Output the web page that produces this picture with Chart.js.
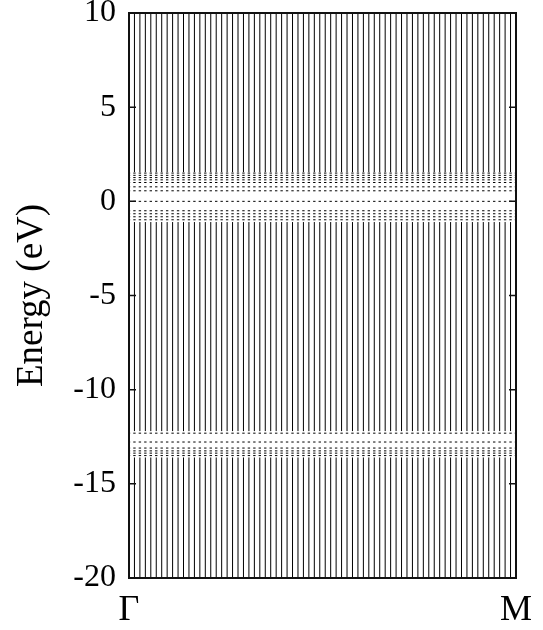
<!DOCTYPE html>
<html>
<head>
<meta charset="utf-8">
<script src="https://cdn.jsdelivr.net/npm/chart.js@4.4.0/dist/chart.umd.min.js"></script>
<style>
  html, body { margin: 0; padding: 0; background: #fff; }
  #wrap { width: 543px; height: 630px; }
</style>
</head>
<body>
<div id="wrap"><canvas id="bands"></canvas></div>
<script>
// k-path sampling between Gamma and M
const kCount = 72;
const kLabels = ["Γ", "M"];
// energy window and axis ticks (eV)
const eMin = -20;
const eMax = 10;
const eTicks = [-20, -15, -10, -5, 0, 5, 10];
// continuous manifolds: [bottom, top] in eV
const bandBlocks = [[-20, -13.6], [-12.2, -1.1], [1.55, 10]];
// dispersionless levels inside the gaps (eV)
const flatBands = [1.5, 1.38, 1.26, 1.14, 1.0, 0.77, 0.56, 0, -0.5, -0.66, -0.82, -0.98,
  -12.31, -12.78, -13.1, -13.25, -13.37, -13.5];

const kPath = [];
for (let i = 0; i < kCount; i++) kPath.push(i / (kCount - 1));

const blockPts = [];
kPath.forEach((k) => {
  bandBlocks.forEach((b) => {
    blockPts.push({ x: k, y: b[0] });
    blockPts.push({ x: k, y: b[1] });
    blockPts.push({ x: k, y: null });
  });
});

const flatPts = [];
flatBands.forEach((e) => {
  kPath.forEach((k) => flatPts.push({ x: k, y: e }));
});

const serif = "'Liberation Serif', 'DejaVu Serif', serif";

// gnuplot style frame with inward ticks
const frame = {
  id: "frame",
  afterDatasetsDraw(chart) {
    const { ctx, chartArea: a } = chart;
    const ys = chart.scales.y;
    ctx.save();
    ctx.strokeStyle = "#111";
    ctx.lineWidth = 1.5;
    eTicks.forEach((v) => {
      const py = ys.getPixelForValue(v);
      ctx.beginPath();
      ctx.moveTo(a.left, py);
      ctx.lineTo(a.left + 7, py);
      ctx.moveTo(a.right, py);
      ctx.lineTo(a.right - 7, py);
      ctx.stroke();
    });
    ctx.lineWidth = 2;
    ctx.strokeRect(a.left, a.top, a.right - a.left, a.bottom - a.top);
    ctx.restore();
  },
};

new Chart(document.getElementById("bands"), {
  type: "line",
  data: {
    datasets: [
      {
        data: blockPts,
        borderColor: "#000",
        borderWidth: 1,
        pointRadius: 0,
        spanGaps: false,
        fill: false,
      },
      {
        data: flatPts,
        showLine: false,
        pointStyle: "line",
        pointRadius: 1.2,
        pointBorderWidth: 1,
        pointBorderColor: "#000",
      },
    ],
  },
  options: {
    responsive: true,
    maintainAspectRatio: false,
    animation: false,
    layout: { padding: { top: 13, right: 27, left: 0, bottom: 0 } },
    plugins: { legend: { display: false }, tooltip: { enabled: false } },
    scales: {
      x: {
        type: "linear",
        min: 0,
        max: 1,
        grid: { display: false, drawTicks: false },
        border: { display: false },
        afterBuildTicks: (s) => {
          s.ticks = [{ value: 0 }, { value: 1 }];
        },
        afterFit: (s) => {
          s.height = 52;
        },
        ticks: {
          autoSkip: false,
          maxRotation: 0,
          padding: 11,
          color: "#000",
          font: { family: serif, size: 36 },
          callback: (v) => (v === 0 ? kLabels[0] : kLabels[1]),
        },
      },
      y: {
        min: eMin,
        max: eMax,
        grid: { display: false, drawTicks: false },
        border: { display: false },
        afterFit: (s) => {
          s.width = 129;
          s.paddingTop = 0;
          s.paddingBottom = 0;
        },
        ticks: {
          stepSize: 5,
          autoSkip: false,
          padding: 13,
          color: "#000",
          font: { family: serif, size: 32 },
        },
        title: {
          display: true,
          text: "Energy (eV)",
          color: "#000",
          padding: { top: 10, bottom: 0 },
          font: { family: serif, size: 37 },
        },
      },
    },
  },
  plugins: [frame],
});
</script>
</body>
</html>
